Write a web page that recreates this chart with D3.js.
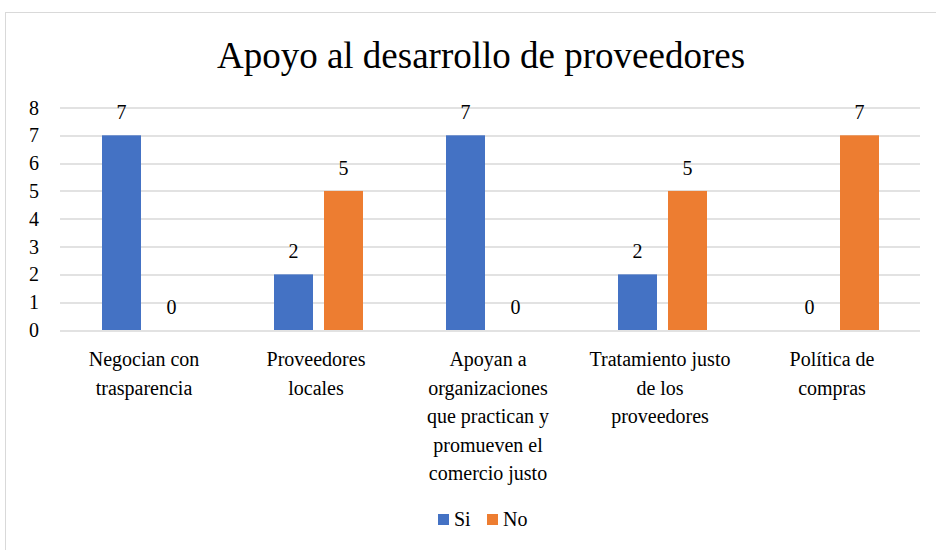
<!DOCTYPE html>
<html>
<head>
<meta charset="utf-8">
<script src="https://cdn.jsdelivr.net/npm/d3@7"></script>
<style>
  body { margin: 0; background: #fff; }
  svg text, svg tspan { font-family: "Liberation Serif", "Times New Roman", serif !important; }
</style>
</head>
<body>
<div id="chart"></div>
<script>
var categories = [
  ["Negocian con", "trasparencia"],
  ["Proveedores", "locales"],
  ["Apoyan a", "organizaciones", "que practican y", "promueven el", "comercio justo"],
  ["Tratamiento justo", "de los", "proveedores"],
  ["Política de", "compras"]
];
var siValues = [7, 2, 7, 2, 0];
var noValues = [0, 5, 0, 5, 7];
var seriesNames = ["Si", "No"];
var yTicks = [0, 1, 2, 3, 4, 5, 6, 7, 8];
var colors = ["#4472C4", "#ED7D31"];
var FONT = "Liberation Serif";

var svg = d3.select("#chart").append("svg")
    .attr("width", 936).attr("height", 550);

// chart frame
svg.append("rect")
    .attr("x", 5.5).attr("y", 12.5)
    .attr("width", 940).attr("height", 560)
    .attr("fill", "none").attr("stroke", "#d9d9d9");

var margin = {top: 107.5, left: 60, right: 16, bottom: 220};
var width = 936 - margin.left - margin.right,
    height = 330 - margin.top;

var g = svg.append("g").attr("transform", "translate(" + margin.left + "," + margin.top + ")");

var x0 = d3.scaleBand().domain(d3.range(categories.length)).range([0, width]).paddingInner(0).paddingOuter(0);
var x1 = d3.scaleBand().domain([0, 1]).range([42, x0.bandwidth() - 41]).paddingInner(0.22);
var y = d3.scaleLinear().domain([0, 8]).range([height, 0]);

svg.append("text")
    .attr("x", 481).attr("y", 68)
    .attr("text-anchor", "middle")
    .attr("font-family", FONT)
    .attr("font-size", 37)
    .text("Apoyo al desarrollo de proveedores");

// gridlines
g.append("g").selectAll("line")
  .data(yTicks).enter().append("line")
    .attr("x1", 0).attr("x2", width)
    .attr("y1", function(d) { return Math.round(y(d)) + 0.5; })
    .attr("y2", function(d) { return Math.round(y(d)) + 0.5; })
    .attr("stroke", "#d9d9d9").attr("stroke-width", 1.3);

// y axis labels
g.append("g").selectAll("text")
  .data(yTicks).enter().append("text")
    .attr("x", -21)
    .attr("y", function(d) { return y(d) + 7; })
    .attr("text-anchor", "end")
    .attr("font-family", FONT)
    .attr("font-size", 20)
    .text(function(d) { return d; });

var data = categories.map(function(c, i) {
  return {i: i, values: [siValues[i], noValues[i]]};
});

var group = g.selectAll(".cat")
  .data(data)
  .enter().append("g")
    .attr("class", "cat")
    .attr("transform", function(d) { return "translate(" + x0(d.i) + ",0)"; });

group.selectAll("rect")
  .data(function(d) { return d.values.map(function(v, s) { return {s: s, v: v}; }); })
  .enter().append("rect")
    .attr("x", function(d) { return x1(d.s); })
    .attr("width", x1.bandwidth())
    .attr("y", function(d) { return y(d.v); })
    .attr("height", function(d) { return height - y(d.v); })
    .attr("fill", function(d) { return colors[d.s]; });

group.selectAll(".val")
  .data(function(d) { return d.values.map(function(v, s) { return {s: s, v: v}; }); })
  .enter().append("text")
    .attr("class", "val")
    .attr("x", function(d) { return x1(d.s) + x1.bandwidth() / 2; })
    .attr("y", function(d) { return y(d.v) - 16; })
    .attr("text-anchor", "middle")
    .attr("font-family", FONT)
    .attr("font-size", 20)
    .text(function(d) { return d.v; });

// category labels
var labels = g.selectAll(".lab")
  .data(categories)
  .enter().append("text")
    .attr("class", "lab")
    .attr("text-anchor", "middle")
    .attr("font-family", FONT)
    .attr("font-size", 20)
    .attr("transform", function(d, i) { return "translate(" + (x0(i) + x0.bandwidth() / 2 - 2) + "," + (height + 36) + ")"; });

labels.selectAll("tspan")
  .data(function(d) { return d; })
  .enter().append("tspan")
    .attr("x", 0)
    .attr("y", function(d, j) { return j * 28.5; })
    .text(function(d) { return d; });

// legend
var legend = svg.append("g").attr("transform", "translate(438,514)");
var item = legend.selectAll("g")
  .data(seriesNames)
  .enter().append("g")
    .attr("transform", function(d, i) { return "translate(" + (i * 49) + ",0)"; });
item.append("rect")
    .attr("width", 11).attr("height", 11)
    .attr("fill", function(d, i) { return colors[i]; });
item.append("text")
    .attr("x", 16).attr("y", 12)
    .attr("font-family", FONT)
    .attr("font-size", 20)
    .text(function(d) { return d; });
</script>
</body>
</html>
